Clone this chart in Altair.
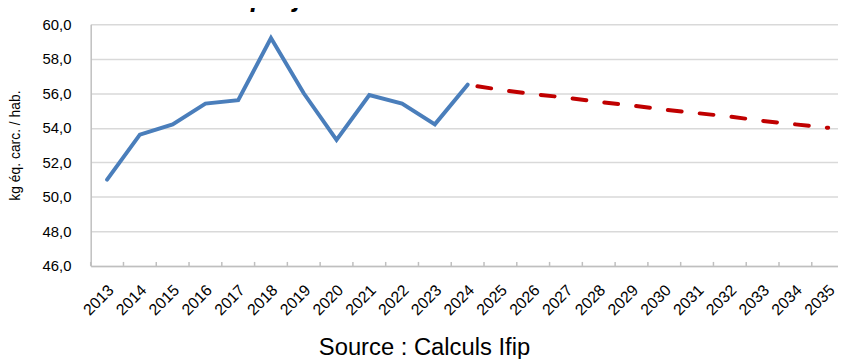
import altair as alt
import pandas as pd

# ---- data ----
hist_years = [2013, 2014, 2015, 2016, 2017, 2018, 2019, 2020, 2021, 2022, 2023, 2024]
hist_values = [51.0, 53.6, 54.2, 55.4, 55.6, 59.2, 56.0, 53.3, 55.9, 55.4, 54.2, 56.5]
proj_years = [2024, 2025, 2026, 2027, 2028, 2029, 2030, 2031, 2032, 2033, 2034, 2035]
proj_values = [56.5, 56.2, 55.95, 55.75, 55.5, 55.3, 55.05, 54.85, 54.65, 54.4, 54.2, 54.0]
all_years = [2013, 2014, 2015, 2016, 2017, 2018, 2019, 2020, 2021, 2022, 2023, 2024,
             2025, 2026, 2027, 2028, 2029, 2030, 2031, 2032, 2033, 2034, 2035]
y_ticks = [46, 48, 50, 52, 54, 56, 58, 60]
title_text = "projection à l'horizon 2035"
source_text = "Source : Calculs Ifip"
y_title = "kg éq. carc. / hab."

hist_df = pd.DataFrame({"year": hist_years, "value": hist_values})
proj_df = pd.DataFrame({"year": proj_years, "value": proj_values})
tick_df = pd.DataFrame({"year": [y - 0.5 for y in all_years]})

W, H = 754.5, 244
FONT = "Liberation Sans"

x_scale = alt.Scale(domain=[2012.5, 2035.3], nice=False, zero=False)
y_scale = alt.Scale(domain=[46, 60], nice=False, zero=False)

x_axis = alt.Axis(
    values=all_years, format="d", labelAngle=315, labelAlign="right", labelBaseline="top",
    labelPadding=16, labelOffset=-2, ticks=False, grid=False, domainColor="#BFBFBF",
    domainWidth=1.5, labelFont=FONT, labelFontSize=16, labelColor="#000000", title=None,
    labelOverlap=False, labelFlush=False,
)
y_axis = alt.Axis(
    values=y_ticks, labelExpr="replace(format(datum.value, '.1f'), '.', ',')",
    ticks=False, labelPadding=20, grid=True, gridColor="#D9D9D9", gridWidth=1.5,
    domainColor="#BFBFBF", domainWidth=1.5, labelFont=FONT, labelFontSize=15,
    labelColor="#000000", title=y_title, titleFont=FONT, titleFontSize=14,
    titleFontWeight="normal", titleColor="#000000", titleAngle=270,
    titleX=-76, titleY=122, titleAlign="center", titleBaseline="middle",
)

X = alt.X("year:Q", scale=x_scale, axis=x_axis)
Y = alt.Y("value:Q", scale=y_scale, axis=y_axis)

hist = alt.Chart(hist_df).mark_line(color="#4A7EBB", strokeWidth=4, strokeCap="round",
                                    strokeJoin="miter").encode(x=X, y=Y)
proj = alt.Chart(proj_df).mark_line(color="#C00000", strokeWidth=4, strokeCap="round",
                                    strokeDash=[14, 18.3], strokeDashOffset=22.3).encode(x=X, y=Y)
ticks = alt.Chart(tick_df).mark_rule(color="#BFBFBF", strokeWidth=1.5).encode(
    x=alt.X("year:Q", scale=x_scale, axis=x_axis),
    y=alt.value(H - 4), y2=alt.value(H),
)
title = alt.Chart(pd.DataFrame({"t": [title_text]})).mark_text(
    font=FONT, fontSize=27, fontWeight="bold", fontStyle="italic", align="center",
    baseline="alphabetic", color="#000000",
).encode(text="t:N", x=alt.value(331.5), y=alt.value(-18))
source = alt.Chart(pd.DataFrame({"t": [source_text]})).mark_text(
    font=FONT, fontSize=24, align="center", baseline="middle", color="#000000",
).encode(text="t:N", x=alt.value(337), y=alt.value(327))

chart = alt.layer(ticks, hist, proj, title, source).properties(
    width=W, height=H,
    autosize=alt.AutoSizeParams(type="none"),
    padding={"left": 83.5, "top": 14.7, "right": 0, "bottom": 92},
    background="white",
).configure_view(stroke=None)

chart.save("out.html", embed_options={"renderer": "svg", "actions": False})
